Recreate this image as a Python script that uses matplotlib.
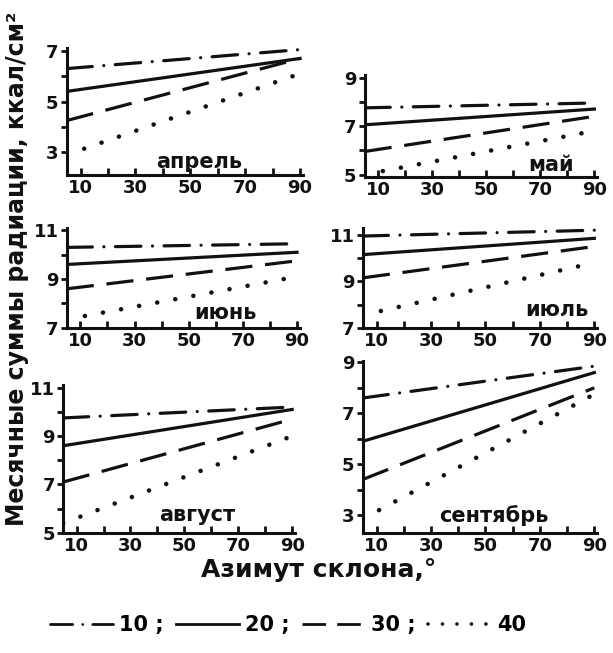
import matplotlib
matplotlib.use("Agg")
import matplotlib.pyplot as plt
from matplotlib.lines import Line2D
from matplotlib.ticker import MultipleLocator, FixedLocator

# --- data ---
months = ["апрель", "май", "июнь", "июль", "август", "сентябрь"]
azimuth = [5, 90]                      # lines run from the y axis to 90°
steep_labels = ["10", "20", "30", "40"]  # slope steepness, degrees

s10_start = [6.3, 7.75, 10.3, 10.95, 9.75, 7.6]
s10_end = [7.05, 7.95, 10.45, 11.2, 10.2, 8.85]
s20_start = [5.4, 7.05, 9.6, 10.15, 8.6, 5.9]
s20_end = [6.7, 7.7, 10.1, 10.85, 10.1, 8.6]
s30_start = [4.25, 5.95, 8.6, 9.15, 7.1, 4.4]
s30_end = [6.7, 7.4, 9.75, 10.5, 9.7, 8.0]
s40_start = [2.9, 5.0, 7.35, 7.55, 5.4, 2.85]
s40_end = [6.1, 6.8, 9.1, 9.8, 9.0, 7.75]

y_ticks = [[3, 5, 7], [5, 7, 9], [7, 9, 11], [7, 9, 11], [5, 7, 9, 11], [3, 5, 7, 9]]
y_lims = [(2.1, 7.1), (4.9, 9.1), (7.0, 11.1), (7.0, 11.3), (5.0, 11.1), (2.3, 9.05)]
x_ticks = [10, 30, 50, 70, 90]

# --- styling ---
INK = "#111111"
LW = 2.3
styles = [
    dict(linestyle=(0, (8.0, 3.6, 0.01, 3.6)), dash_capstyle="round"),   # dash-dot
    dict(linestyle="-"),
    dict(linestyle=(0, (8.5, 4.0))),              # dashed
    dict(linestyle=(0, (0.01, 4.0)), linewidth=3.3, dash_capstyle="round"),  # dotted
]

# axes boxes [left, bottom, width, height] in figure fractions
boxes = [
    [0.109, 0.732, 0.385, 0.194],
    [0.595, 0.729, 0.379, 0.156],
    [0.109, 0.498, 0.380, 0.153],
    [0.592, 0.498, 0.382, 0.153],
    [0.103, 0.184, 0.378, 0.226],
    [0.592, 0.184, 0.382, 0.263],
]
label_pos = [(0.56, 0.10), (0.80, 0.12), (0.68, 0.15), (0.83, 0.18), (0.58, 0.12), (0.56, 0.10)]

fig = plt.figure(figsize=(6.13, 6.53), dpi=100)

starts = [s10_start, s20_start, s30_start, s40_start]
ends = [s10_end, s20_end, s30_end, s40_end]

for i, month in enumerate(months):
    ax = fig.add_axes(boxes[i])
    for k in range(4):
        kw = dict(color=INK, linewidth=LW)
        kw.update(styles[k])
        ax.plot(azimuth, [starts[k][i], ends[k][i]], **kw)

    ax.set_xlim(5, 91)
    ax.set_ylim(*y_lims[i])
    ax.xaxis.set_major_locator(FixedLocator(x_ticks))
    ax.xaxis.set_minor_locator(FixedLocator([20, 40, 60, 80]))
    ax.yaxis.set_major_locator(FixedLocator(y_ticks[i]))
    ax.yaxis.set_minor_locator(MultipleLocator(1))

    for side in ("top", "right"):
        ax.spines[side].set_visible(False)
    for side in ("left", "bottom"):
        ax.spines[side].set_linewidth(2.2)
        ax.spines[side].set_color(INK)

    ax.tick_params(axis="x", which="both", direction="in", length=5, width=2,
                   colors=INK, labelsize=13, pad=3)
    ax.tick_params(axis="y", which="both", direction="out", length=4, width=2,
                   colors=INK, labelsize=13, pad=2)
    for lab in ax.get_xticklabels() + ax.get_yticklabels():
        lab.set_fontweight("bold")

    ax.text(label_pos[i][0], label_pos[i][1], month, transform=ax.transAxes,
            ha="center", va="center", fontsize=15, fontweight="bold", color=INK)

fig.text(0.028, 0.588, "Месячные суммы радиации, ккал/см²", rotation=90,
         ha="center", va="center", fontsize=17, fontweight="bold", color=INK)
fig.text(0.52, 0.127, "Азимут склона,°", ha="center", va="center",
         fontsize=18, fontweight="bold", color=INK)

handles = []
for k in range(4):
    kw = dict(color=INK, linewidth=2.0)
    kw.update(styles[k])
    if k == 3:
        kw["linewidth"] = 2.6
    handles.append(Line2D([], [], **kw))
legend_labels = ["10 ;", "20 ;", "30 ;", "40"]
fig.legend(handles, legend_labels, loc="center", bbox_to_anchor=(0.47, 0.043),
           ncol=4, frameon=False, handlelength=3.0, handletextpad=0.3,
           columnspacing=0.6, prop=dict(size=15, weight="bold"))

fig.savefig("out.png", dpi=100)
